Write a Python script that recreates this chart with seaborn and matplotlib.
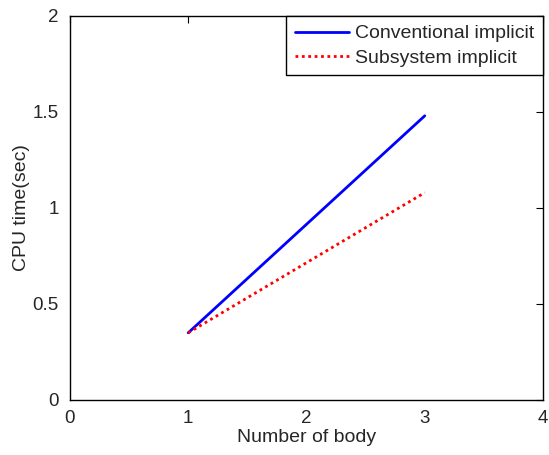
import matplotlib
matplotlib.use("Agg")
import matplotlib.pyplot as plt
import seaborn as sns
import pandas as pd

# ------------------------------------
# DATA
# ------------------------------------
num_body = [1, 3]
conventional = [0.35, 1.48]
subsystem = [0.35, 1.08]

x_ticks = [0, 1, 2, 3, 4]
y_ticks = [0, 0.5, 1, 1.5, 2]
y_labels = ["0", "0.5", "1", "1.5", "2"]

# ------------------------------------
# STYLE
# ------------------------------------
sns.set_style("white")
plt.rcParams["font.family"] = ["Liberation Sans", "DejaVu Sans"]
plt.rcParams["xtick.direction"] = "in"
plt.rcParams["ytick.direction"] = "in"

df = pd.DataFrame({
    "Number of body": num_body * 2,
    "CPU": conventional + subsystem,
    "Method": ["Conventional implicit"] * 2 + ["Subsystem implicit"] * 2,
})

fig = plt.figure(figsize=(5.49, 4.55), dpi=100)
ax = fig.add_axes([0.1275, 0.1209, 0.8616, 0.844])

sns.lineplot(data=df[df["Method"] == "Conventional implicit"],
             x="Number of body", y="CPU", color="#0000ff", linewidth=2,
             label="Conventional implicit", ax=ax)
sns.lineplot(data=df[df["Method"] == "Subsystem implicit"],
             x="Number of body", y="CPU", color="#ff0000", linewidth=2,
             linestyle=(0, (1, 1.3)), label="Subsystem implicit", ax=ax)

ax.set_xlim(0, 4)
ax.set_ylim(0, 2)
ax.set_xticks(x_ticks)
ax.set_yticks(y_ticks)
ax.set_yticklabels(y_labels)
ax.tick_params(axis="both", labelsize=13.5, length=5, width=0.8,
               top=True, right=True, color="black")
ax.tick_params(axis="x", pad=7)
ax.tick_params(axis="y", pad=8)
ax.set_xlabel("Number of body", fontsize=14, labelpad=2)
ax.set_ylabel("CPU time(sec)", fontsize=14, labelpad=2)
for sp in ax.spines.values():
    sp.set_color("black")
    sp.set_linewidth(1.0)

leg = ax.legend(loc="upper right", fontsize=14, frameon=True, fancybox=False,
                framealpha=1, edgecolor="black", borderaxespad=0,
                handlelength=2.8, handletextpad=0.3, borderpad=0.45,
                labelspacing=0.35)
leg.get_frame().set_linewidth(1.0)

fig.savefig("out.png", dpi=100)
